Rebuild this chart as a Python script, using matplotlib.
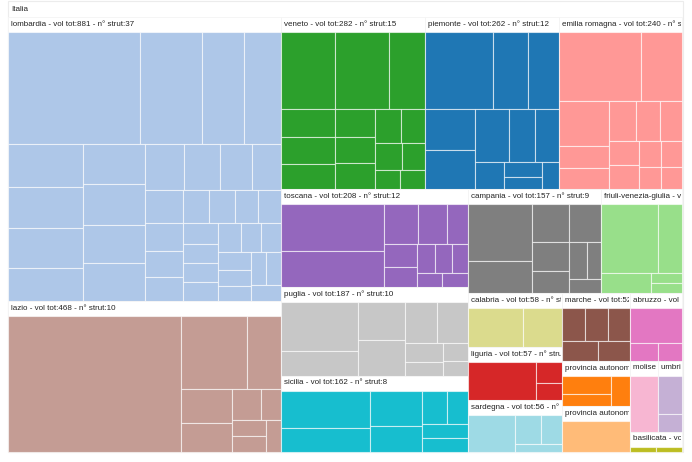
import matplotlib
matplotlib.use("Agg")
import matplotlib.pyplot as plt
from matplotlib.patches import Rectangle

# volumi delle singole strutture per regione
lombardia = [177, 83, 56, 50, 39, 37, 36, 30, 30, 30, 28, 28, 22, 20, 18, 16,
             15, 13, 12, 11, 10, 10, 9, 9, 9, 8, 8, 8, 8, 7, 7, 7, 6, 6, 6, 6, 6]
lazio = [296, 61, 31, 22, 19, 11, 8, 7, 7, 6]
veneto = [52, 51, 35, 19, 18, 17, 14, 13, 13, 11, 10, 9, 8, 6, 6]
piemonte = [65, 34, 30, 25, 24, 22, 17, 16, 10, 7, 6, 6]
emilia = [70, 35, 28, 14, 13, 13, 12, 11, 9, 9, 7, 7, 6, 6]
toscana = [64, 51, 18, 15, 11, 10, 9, 7, 7, 6, 5, 5]
puglia = [51, 26, 24, 23, 18, 17, 10, 7, 6, 5]
sicilia = [47, 30, 26, 19, 12, 10, 9, 9]
campania = [48, 27, 19, 16, 14, 11, 9, 7, 6]
friuli = [52, 22, 13, 4, 4]
calabria = [34, 24]
liguria = [41, 9, 7]
sardegna = [28, 12, 10, 6]
marche = [11, 11, 11, 10, 9]
abruzzo = [27, 7, 6]
trento = [15, 10, 10]
bolzano = [35]
molise = [23]
umbria = [13, 6]
basilicata = [6, 6]

nomi = ["lombardia", "lazio", "veneto", "piemonte", "emilia romagna", "toscana",
        "puglia", "sicilia", "campania", "friuli-venezia-giulia", "calabria",
        "liguria", "sardegna", "marche", "abruzzo", "provincia autonoma di trento",
        "provincia autonoma di bolzano", "molise", "umbria", "basilicata"]
strutture = [lombardia, lazio, veneto, piemonte, emilia, toscana, puglia, sicilia,
             campania, friuli, calabria, liguria, sardegna, marche, abruzzo,
             trento, bolzano, molise, umbria, basilicata]
colori = ["#aec7e8", "#c49c94", "#2ca02c", "#1f77b4", "#ff9896", "#9467bd",
          "#c7c7c7", "#17becf", "#7f7f7f", "#98df8a", "#dbdb8d", "#d62728",
          "#9edae5", "#8c564b", "#e377c2", "#ff7f0e", "#ffbb78", "#f7b6d2",
          "#c5b0d5", "#bcbd22"]

PHI = (1 + 5 ** 0.5) / 2
HEADER = 15


def squarify(values, x0, y0, x1, y1, ratio=PHI):
    # stesso algoritmo di d3.treemapSquarify (valori gia' ordinati)
    rects = [None] * len(values)
    value = float(sum(values))
    n = len(values)
    i0 = i1 = 0
    while i0 < n:
        dx, dy = x1 - x0, y1 - y0
        s = values[i1]
        i1 += 1
        vmin = vmax = s
        alpha = max(dy / dx, dx / dy) / (value * ratio)
        beta = s * s * alpha
        best = max(vmax / beta, beta / vmin)
        while i1 < n:
            v = values[i1]
            s += v
            vmin = min(vmin, v)
            vmax = max(vmax, v)
            beta = s * s * alpha
            r = max(vmax / beta, beta / vmin)
            if r > best:
                s -= v
                break
            best = r
            i1 += 1
        if dx < dy:
            yb = y0 + dy * s / value
            xx = x0
            for i in range(i0, i1):
                w = dx * values[i] / s
                rects[i] = (xx, y0, xx + w, yb)
                xx += w
            y0 = yb
        else:
            xb = x0 + dx * s / value
            yy = y0
            for i in range(i0, i1):
                h = dy * values[i] / s
                rects[i] = (x0, yy, xb, yy + h)
                yy += h
            x0 = xb
        value -= s
        i0 = i1
    return rects


def place(values, x0, y0, x1, y1):
    # layout sull'intera cella, poi compresso sotto l'intestazione
    k = (y1 - y0 - HEADER) / (y1 - y0)
    out = []
    for a, b, c, d in squarify(values, x0, y0, x1, y1):
        out.append((a, y0 + HEADER + (b - y0) * k, c, y0 + HEADER + (d - y0) * k))
    return out


fig = plt.figure(figsize=(6.92, 4.62), dpi=100)
ax = fig.add_axes([0, 0, 1, 1])
ax.set_xlim(0, 692)
ax.set_ylim(462, 0)
ax.axis("off")

font = dict(family=["Liberation Sans", "DejaVu Sans"], fontsize=5.8, color="#222222")

rx0, ry0, rx1, ry1 = 8, 2, 682, 452
ax.add_patch(Rectangle((rx0, ry0 - 1), rx1 - rx0 + 1, ry1 - ry0 + 1,
                       facecolor="white", edgecolor="#ececec", lw=0.8))
ax.text(rx0 + 3.5, ry0 + 7.5, "Italia", va="center", ha="left", **font)

ordine = sorted(range(len(nomi)), key=lambda i: -sum(strutture[i]))
totali = [sum(strutture[i]) for i in ordine]
celle = place(totali, rx0, ry0, rx1, ry1)

for k, i in zip(range(len(ordine)), ordine):
    x0, y0, x1, y1 = celle[k]
    ax.add_patch(Rectangle((x0, y0), x1 - x0, y1 - y0, facecolor="white",
                           edgecolor="#f4f4f4", lw=0.6))
    foglie = sorted(strutture[i], reverse=True)
    for fx0, fy0, fx1, fy1 in place(foglie, x0, y0, x1, y1):
        ax.add_patch(Rectangle((fx0, fy0), fx1 - fx0, fy1 - fy0,
                               facecolor=colori[i], edgecolor=(1, 1, 1, 0.6), lw=0.8))
    label = f"{nomi[i]} - vol tot:{sum(strutture[i])} - n° strut:{len(strutture[i])}"
    t = ax.text(x0 + 3, y0 + 7.2, label, va="center", ha="left", clip_on=True, **font)
    t.set_clip_path(Rectangle((x0, y0), x1 - x0 - 1, y1 - y0, transform=ax.transData))

fig.savefig("out.png", dpi=100, facecolor="white")
